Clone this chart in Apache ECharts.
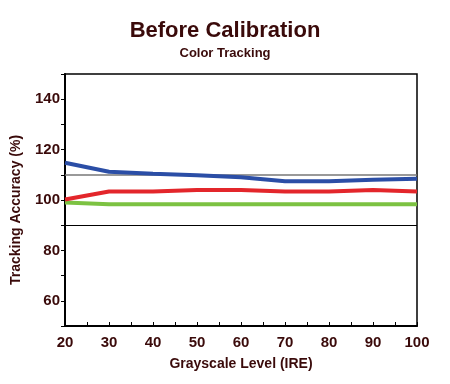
<!DOCTYPE html>
<html><head><meta charset="utf-8">
<script src="https://cdn.jsdelivr.net/npm/echarts@6/dist/echarts.min.js"></script>
<style>html,body{margin:0;padding:0;background:#fff}#c{width:450px;height:384px}</style>
</head><body><div id="c"></div>
<script>
var xLevels = [20, 30, 40, 50, 60, 70, 80, 90, 100];
var blueValues = [114.8, 111.2, 110.4, 109.8, 109.0, 107.4, 107.4, 108.0, 108.4];
var redValues = [100.2, 103.4, 103.4, 104.0, 104.0, 103.4, 103.4, 104.0, 103.4];
var greenValues = [99.0, 98.3, 98.3, 98.3, 98.3, 98.3, 98.3, 98.3, 98.3];
var refLines = [90, 110];
var yLabels = [60, 80, 100, 120, 140];

var txt = '#3a0a0a';
var font = 'Liberation Sans, Arial, Helvetica, sans-serif';
function pairs(v){ return xLevels.map(function(x,i){return [x, v[i]];}); }
var chart = echarts.init(document.getElementById('c'), null, {renderer:'canvas'});
chart.setOption({
  animation:false,
  backgroundColor:'#fff',
  title:[
    {text:'Before Calibration', left:'center', top:15, textStyle:{fontFamily:font, fontSize:22, fontWeight:'bold', color:txt}},
    {text:'Color Tracking', left:'center', top:42, textStyle:{fontFamily:font, fontSize:13, fontWeight:'bold', color:txt}}
  ],
  grid:{left:65, right:33, top:74, bottom:58, show:true, borderColor:'#000', borderWidth:1.5, backgroundColor:'transparent'},
  xAxis:{type:'value', min:20, max:100, interval:5,
    name:'Grayscale Level (IRE)', nameLocation:'middle', nameGap:31,
    nameTextStyle:{fontFamily:font, fontSize:14, fontWeight:'bold', color:txt},
    axisLine:{lineStyle:{color:'#000', width:2}},
    axisTick:{inside:true, length:4, lineStyle:{color:'#000'}},
    splitLine:{show:false},
    axisLabel:{fontFamily:font, fontSize:15, fontWeight:'bold', color:txt, margin:9,
      formatter:function(v){return v%10===0? String(v):'';}}
  },
  yAxis:{type:'value', min:50, max:150, interval:10,
    name:'Tracking Accuracy (%)', nameLocation:'middle', nameGap:42, nameRotate:90,
    nameTextStyle:{fontFamily:font, fontSize:14, fontWeight:'bold', color:txt, padding:[0,20,0,0]},
    axisLine:{show:true, lineStyle:{color:'#000', width:2}},
    axisTick:{length:4, lineStyle:{color:'#000'}},
    splitLine:{show:false},
    axisLabel:{fontFamily:font, fontSize:15, fontWeight:'bold', color:txt, margin:5,
      formatter:function(v){return yLabels.indexOf(v)>=0? String(v):'';}}
  },
  series:[
    {type:'line', data:pairs(greenValues), symbol:'none', lineStyle:{color:'#7cc242', width:4}, z:3,
      markLine:{silent:true, symbol:'none', label:{show:false},
        data:[{yAxis:refLines[0], lineStyle:{color:'#000', width:1.2, type:'solid'}},
              {yAxis:refLines[1], lineStyle:{color:'#777', width:1.5, type:'solid'}}]}},
    {type:'line', data:pairs(redValues), symbol:'none', lineStyle:{color:'#e3262b', width:4}, z:4},
    {type:'line', data:pairs(blueValues), symbol:'none', lineStyle:{color:'#2b4ea6', width:4}, z:5}
  ]
});
</script></body></html>
